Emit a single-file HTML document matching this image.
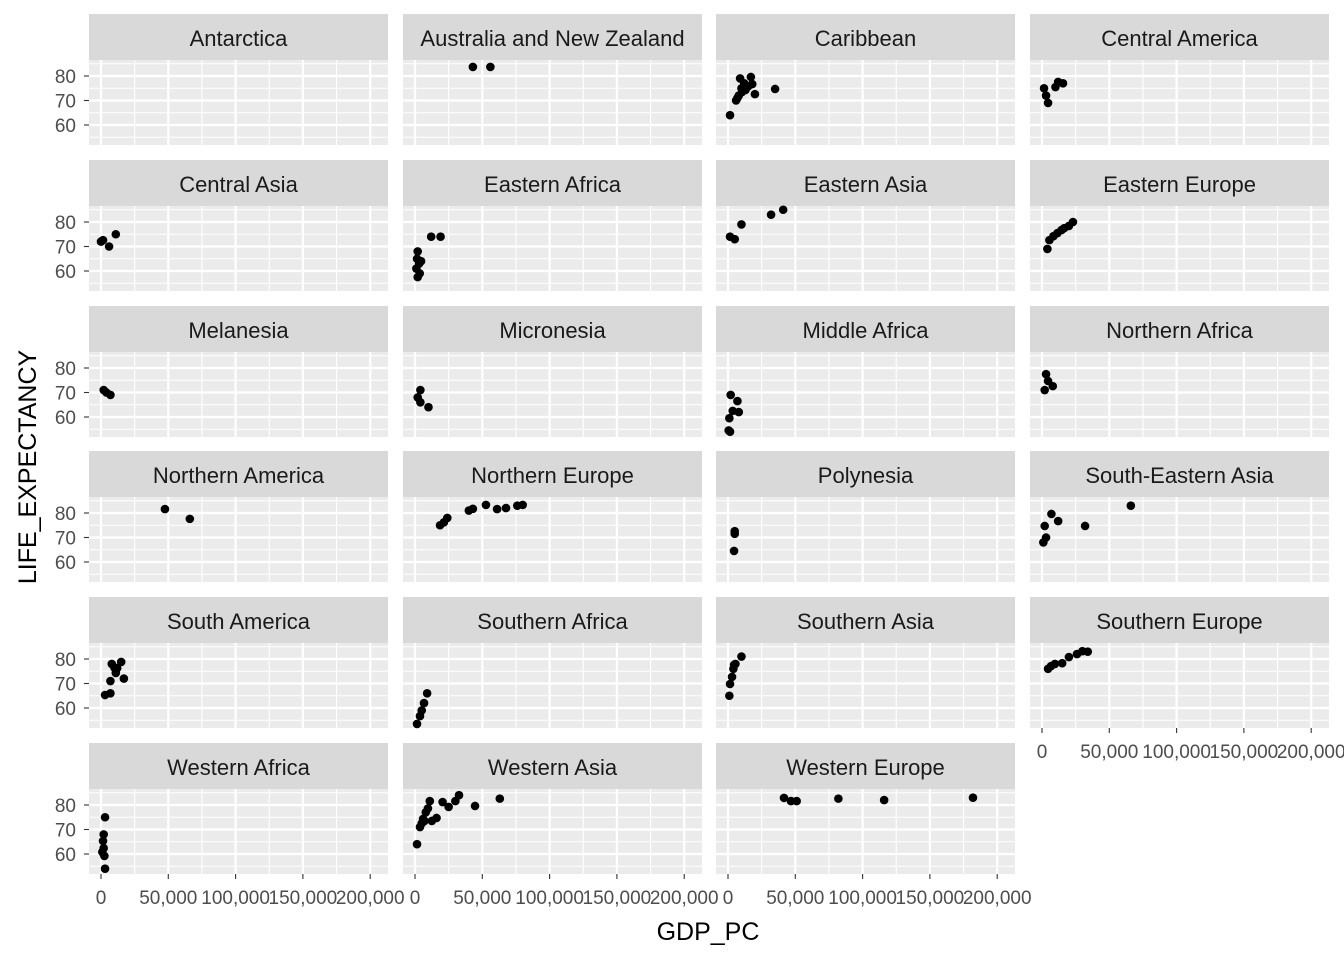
<!DOCTYPE html>
<html><head><meta charset="utf-8"><style>body{margin:0;background:#fff}svg{display:block}</style></head>
<body><svg id="s" width="1344" height="960" xmlns="http://www.w3.org/2000/svg" font-family="Liberation Sans, Arial, sans-serif"></svg>
<script>
const cols=[89,403,716,1030], W=299, rowsT=[14,160,306,451,597,743], SH=46, PH=85;
const names=["Antarctica","Australia and New Zealand","Caribbean","Central America","Central Asia","Eastern Africa","Eastern Asia","Eastern Europe","Melanesia","Micronesia","Middle Africa","Northern Africa","Northern America","Northern Europe","Polynesia","South-Eastern Asia","South America","Southern Africa","Southern Asia","Southern Europe","Western Africa","Western Asia","Western Europe"];
const D={
1:[[43,83.7],[56,83.7]],
2:[[1.5,64],[6,70],[8,72],[10,75],[9,79],[12,77],[17,79.6],[18,76.7],[20,72.6],[35,74.7],[7,71],[10.5,73.5],[13,74.3],[15,75.8]],
3:[[1.5,75],[3,72],[4.5,69],[10,75.5],[12,77.6],[15.6,77]],
4:[[1.5,72.6],[6,70],[11,75],[0,72]],
5:[[2,68],[1.5,65],[3,63],[1,61],[2,57.5],[4.5,64],[3.5,59],[12,74],[19,74]],
6:[[1.5,74],[5,73],[10,79],[32,83],[41,85]],
7:[[4,69],[5.5,72.6],[8.5,74.2],[11.5,75.5],[14.5,76.7],[16.5,77.5],[20,78.4],[23,80]],
8:[[2,71],[4,70],[7,69]],
9:[[4,71],[2,68],[4,66],[10,64]],
10:[[2,69],[7,66.5],[8,62],[3.5,62.5],[1,59.5],[0.5,54.5],[1.5,54]],
11:[[3,77.5],[4.5,74.7],[8,72.6],[2,71]],
12:[[47.5,81.6],[66,77.6]],
13:[[18.6,75],[21.5,76.2],[24,78],[40,81],[43,81.7],[52.7,83.3],[61,81.6],[67.6,82],[76,83],[80,83.3]],
14:[[5,72.6],[4.5,64.5],[5,71.5]],
15:[[1,68],[3,70],[2,74.7],[7,79.6],[12,76.7],[32,74.7],[66,83]],
16:[[3,65.3],[7,66],[7,71],[8,78],[11,74.3],[12,76.3],[15,78.8],[17,72],[10,76.5]],
17:[[1.5,53.5],[3.7,56.7],[5,59],[6.7,62],[9,66]],
18:[[1,65],[1.5,69.8],[3,72.7],[4,76],[5.5,78],[4.5,77.6],[10,81]],
19:[[4.5,76],[6.7,77.1],[9.6,78],[15,78.3],[20,80.8],[26,82],[30,83.2],[34,83]],
20:[[3,75],[2,68],[1.5,65.3],[2,62.4],[1,60.8],[2.5,59.2],[3,54]],
21:[[1.5,64],[3.7,71],[6,74.3],[8,77],[9.6,78.6],[11,81.6],[12.5,73.5],[16,74.7],[20.5,81.2],[25,79.2],[30,81.6],[32.7,84],[44.6,79.6],[63,82.6],[5,72.5],[7,73.5]],
22:[[41.6,82.9],[46.8,81.6],[51,81.6],[82,82.6],[116,82],[182,83]]};
let h='';
const xp=(c,g)=>cols[c]+12+g/50*67.3;
const yp=(t,L)=>t+SH+16-(L-80)*2.45;
const fmt=v=>v==0?'0':v.toString().replace(/\B(?=(\d{3})+(?!\d))/g,',');
names.forEach((n,i)=>{
 const c=i%4,r=Math.floor(i/4),t=rowsT[r],x0=cols[c],pt=t+SH;
 h+=`<rect x="${x0}" y="${t}" width="${W}" height="${SH}" fill="#d9d9d9"/>`;
 h+=`<text x="${x0+W/2}" y="${t+32}" font-size="22" text-anchor="middle" fill="#1a1a1a">${n}</text>`;
 h+=`<rect x="${x0}" y="${pt}" width="${W}" height="${PH}" fill="#ebebeb"/>`;
 for(let g=-25;g<=225;g+=25){const x=xp(c,g*1);if(x<x0||x>x0+W)continue;h+=`<line x1="${x}" x2="${x}" y1="${pt}" y2="${pt+PH}" stroke="#fff" stroke-width="${g%50==0?2.2:1.1}"/>`}
 for(let L=55;L<=85;L+=5){const y=yp(t,L);h+=`<line x1="${x0}" x2="${x0+W}" y1="${y}" y2="${y}" stroke="#fff" stroke-width="${L%10==0?2.2:1.1}"/>`}
 (D[i]||[]).forEach(p=>{h+=`<circle cx="${xp(c,p[0])}" cy="${yp(t,p[1])}" r="4.3" fill="#000"/>`});
 if(c==0){[60,70,80].forEach(L=>{const y=yp(t,L);h+=`<line x1="${x0-5}" x2="${x0}" y1="${y}" y2="${y}" stroke="#333" stroke-width="1.1"/><text x="${x0-13}" y="${y+7}" font-size="19" text-anchor="end" fill="#4d4d4d">${L}</text>`})}
 if(r==5||(r==4&&c==3)){const yb=pt+PH;[0,50000,100000,150000,200000].forEach(g=>{const x=xp(c,g/1000);h+=`<line x1="${x}" x2="${x}" y1="${yb}" y2="${yb+5}" stroke="#333" stroke-width="1.1"/><text x="${x}" y="${yb+30}" font-size="19" text-anchor="middle" fill="#4d4d4d">${fmt(g)}</text>`})}
});
h+=`<text x="708" y="940" font-size="25" text-anchor="middle" fill="#000">GDP_PC</text>`;
h+=`<text transform="translate(36,467) rotate(-90)" font-size="25" text-anchor="middle" fill="#000">LIFE_EXPECTANCY</text>`;
document.getElementById('s').innerHTML=h;
</script></body></html>
